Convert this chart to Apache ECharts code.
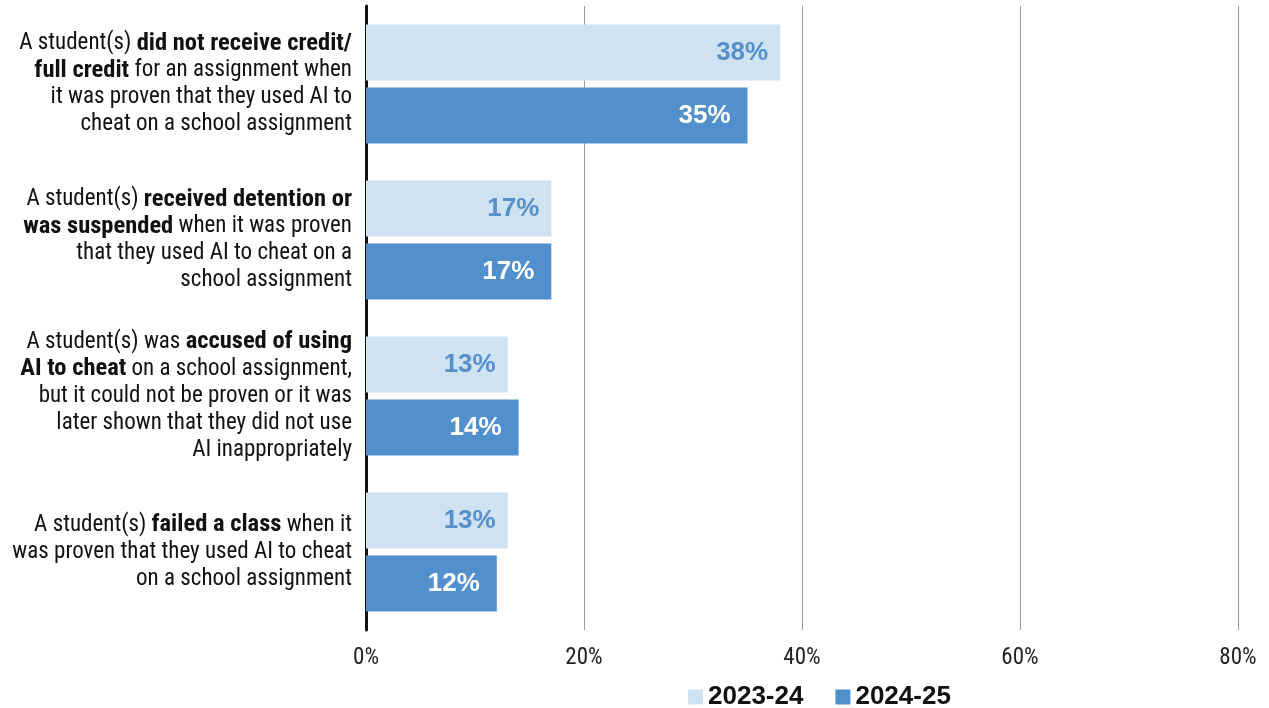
<!DOCTYPE html>
<html><head><meta charset="utf-8">
<script src="https://cdn.jsdelivr.net/npm/echarts@6/dist/echarts.min.js"></script>
<style>html,body{margin:0;padding:0;background:#fff}#c{width:1269px;height:708px}</style>
</head><body><div id="c"></div>
<script>
const categories = ['credit', 'detention', 'accused', 'failed'];
const categoryLines = [
  [[['n','A student(s) '],['b','did not receive credit/']],[['b','full credit'],['n',' for an assignment when']],[['n','it was proven that they used AI to']],[['n','cheat on a school assignment']]],
  [[['n','A student(s) '],['b','received detention or']],[['b','was suspended'],['n',' when it was proven']],[['n','that they used AI to cheat on a']],[['n','school assignment']]],
  [[['n','A student(s) was '],['b','accused of using']],[['b','AI to cheat'],['n',' on a school assignment,']],[['n','but it could not be proven or it was']],[['n','later shown that they did not use']],[['n','AI inappropriately']]],
  [[['n','A student(s) '],['b','failed a class'],['n',' when it']],[['n','was proven that they used AI to cheat']],[['n','on a school assignment']]]
];
const seriesNames = ['2023-24', '2024-25'];
const values2324 = [38, 17, 13, 13];
const values2425 = [35, 17, 14, 12];
const tickLabels = ['0%', '20%', '40%', '60%', '80%'];

const FONT_N = "'Roboto Condensed','Liberation Sans Narrow','DejaVu Sans Condensed',sans-serif";
const FONT_B = "'Liberation Sans',Arial,sans-serif";

const labelMap = {};
categories.forEach((c, i) => {
  labelMap[c] = categoryLines[i].map(line => line.map(([s, t]) => '{' + s + '|' + t + '}').join('')).join('\n');
});

const chart = echarts.init(document.getElementById('c'));
chart.setOption({
  animation: false,
  grid: { left: 366, right: 31, top: 6, bottom: 78, containLabel: false },
  legend: {
    left: 683, top: 679, itemWidth: 15, itemHeight: 15, itemGap: 32,
    icon: 'rect',
    textStyle: { fontFamily: FONT_B, fontWeight: 'bold', fontSize: 26, color: '#111' },
    data: seriesNames
  },
  xAxis: {
    type: 'value', min: 0, max: 80, interval: 20,
    axisLine: { show: false }, axisTick: { show: false },
    splitLine: { lineStyle: { color: '#9a9a9a', width: 1 } },
    axisLabel: {
      margin: 17, fontFamily: FONT_N, fontSize: 23, color: '#222',
      formatter: v => tickLabels[v / 20]
    }
  },
  yAxis: {
    type: 'category', inverse: true, data: categories,
    axisLine: { show: true, lineStyle: { color: '#111', width: 3 } },
    axisTick: { show: false },
    axisLabel: {
      margin: 14, align: 'right',
      formatter: v => labelMap[v],
      rich: {
        n: { fontFamily: FONT_N, fontSize: 23, color: '#111', lineHeight: 27 },
        b: { fontFamily: FONT_N, fontSize: 24.5, fontWeight: 'bold', color: '#111', lineHeight: 27 }
      }
    }
  },
  series: [
    {
      name: seriesNames[0], type: 'bar', data: values2324, barWidth: 56, barGap: '12.5%',
      itemStyle: { color: '#CFE2F1' },
      label: { show: true, position: 'insideRight', distance: 12, formatter: '{c}%',
        fontFamily: FONT_B, fontWeight: 'bold', fontSize: 26, color: '#5590CC' }
    },
    {
      name: seriesNames[1], type: 'bar', data: values2425, barWidth: 56,
      itemStyle: { color: '#5190CD' },
      label: { show: true, position: 'insideRight', distance: 17, formatter: '{c}%',
        fontFamily: FONT_B, fontWeight: 'bold', fontSize: 26, color: '#ffffff' }
    }
  ]
});
</script></body></html>
